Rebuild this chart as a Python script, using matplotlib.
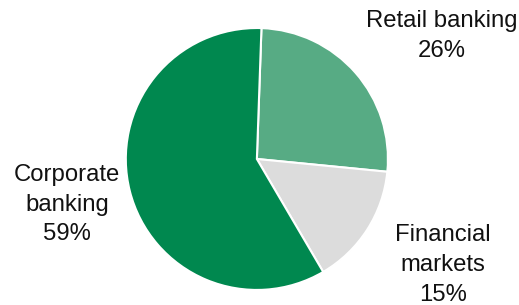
import matplotlib.pyplot as plt

segments = ['Retail banking', 'Financial\nmarkets', 'Corporate\nbanking']
shares = [26, 15, 59]
colors = ['#57ab84', '#dcdcdc', '#00884f']
label_pos = [(1.41, 0.94), (1.42, -0.81), (-1.45, -0.35)]

plt.rcParams['font.family'] = ['Liberation Sans', 'DejaVu Sans']

fig = plt.figure(figsize=(5.19, 3.05), dpi=100)
ax = fig.add_axes([0, 0, 1, 1])
ax.pie(shares, colors=colors, startangle=88, counterclock=False,
       radius=1.0, wedgeprops=dict(edgecolor='white', linewidth=1.5))

for name, val, (x, y) in zip(segments, shares, label_pos):
    ax.text(x, y, '{}\n{}%'.format(name, val), ha='center', va='center',
            fontsize=17.2, linespacing=1.45, color='#111111')

ax.set_xlim(-1.96, 2.0)
ax.set_ylim(-1.115, 1.214)
ax.set_aspect('auto')
ax.axis('off')

fig.savefig('out.png', dpi=100)
